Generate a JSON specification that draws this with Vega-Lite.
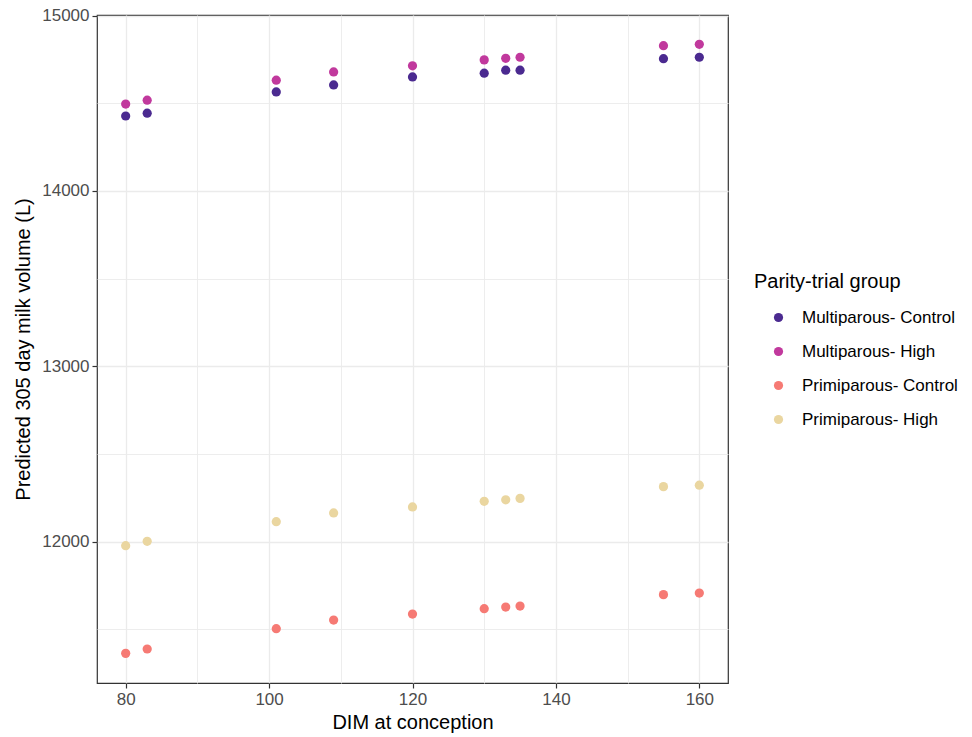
{
  "$schema": "https://vega.github.io/schema/vega-lite/v6.json",
  "autosize": {"type": "none"},
  "padding": {"left": 97, "top": 15, "right": 244, "bottom": 54},
  "width": 631,
  "height": 668,
  "background": "white",
  "config": {
    "font": "Liberation Sans",
    "view": {"stroke": "#333333", "strokeWidth": 1.2}
  },
  "data": {
    "values": [
      {"dim": 80, "volume": 14427, "group": "Multiparous- Control"},
      {"dim": 83, "volume": 14443, "group": "Multiparous- Control"},
      {"dim": 101, "volume": 14564, "group": "Multiparous- Control"},
      {"dim": 109, "volume": 14604, "group": "Multiparous- Control"},
      {"dim": 120, "volume": 14650, "group": "Multiparous- Control"},
      {"dim": 130, "volume": 14671, "group": "Multiparous- Control"},
      {"dim": 133, "volume": 14688, "group": "Multiparous- Control"},
      {"dim": 135, "volume": 14688, "group": "Multiparous- Control"},
      {"dim": 155, "volume": 14754, "group": "Multiparous- Control"},
      {"dim": 160, "volume": 14762, "group": "Multiparous- Control"},
      {"dim": 80, "volume": 14495, "group": "Multiparous- High"},
      {"dim": 83, "volume": 14517, "group": "Multiparous- High"},
      {"dim": 101, "volume": 14631, "group": "Multiparous- High"},
      {"dim": 109, "volume": 14678, "group": "Multiparous- High"},
      {"dim": 120, "volume": 14713, "group": "Multiparous- High"},
      {"dim": 130, "volume": 14747, "group": "Multiparous- High"},
      {"dim": 133, "volume": 14756, "group": "Multiparous- High"},
      {"dim": 135, "volume": 14762, "group": "Multiparous- High"},
      {"dim": 155, "volume": 14828, "group": "Multiparous- High"},
      {"dim": 160, "volume": 14836, "group": "Multiparous- High"},
      {"dim": 80, "volume": 11362, "group": "Primiparous- Control"},
      {"dim": 83, "volume": 11387, "group": "Primiparous- Control"},
      {"dim": 101, "volume": 11503, "group": "Primiparous- Control"},
      {"dim": 109, "volume": 11552, "group": "Primiparous- Control"},
      {"dim": 120, "volume": 11586, "group": "Primiparous- Control"},
      {"dim": 130, "volume": 11617, "group": "Primiparous- Control"},
      {"dim": 133, "volume": 11626, "group": "Primiparous- Control"},
      {"dim": 135, "volume": 11632, "group": "Primiparous- Control"},
      {"dim": 155, "volume": 11697, "group": "Primiparous- Control"},
      {"dim": 160, "volume": 11706, "group": "Primiparous- Control"},
      {"dim": 80, "volume": 11976, "group": "Primiparous- High"},
      {"dim": 83, "volume": 12001, "group": "Primiparous- High"},
      {"dim": 101, "volume": 12113, "group": "Primiparous- High"},
      {"dim": 109, "volume": 12163, "group": "Primiparous- High"},
      {"dim": 120, "volume": 12197, "group": "Primiparous- High"},
      {"dim": 130, "volume": 12229, "group": "Primiparous- High"},
      {"dim": 133, "volume": 12238, "group": "Primiparous- High"},
      {"dim": 135, "volume": 12246, "group": "Primiparous- High"},
      {"dim": 155, "volume": 12313, "group": "Primiparous- High"},
      {"dim": 160, "volume": 12321, "group": "Primiparous- High"}
    ]
  },
  "mark": {"type": "point", "filled": true, "opacity": 1, "size": 85, "shape": "circle"},
  "encoding": {
    "x": {
      "field": "dim",
      "type": "quantitative",
      "scale": {"domain": [76, 164], "nice": false, "zero": false},
      "axis": {
        "title": "DIM at conception",
        "values": [80, 90, 100, 110, 120, 130, 140, 150, 160],
        "labelExpr": "datum.value % 20 === 0 ? datum.label : ''",
        "domain": false,
        "grid": true,
        "gridColor": "#ebebeb",
        "gridWidth": {"condition": {"test": "datum.value % 20 === 0", "value": 1.3}, "value": 0.9},
        "tickColor": {"condition": {"test": "datum.value % 20 === 0", "value": "#333333"}, "value": "transparent"},
        "tickSize": 5,
        "tickWidth": 1.2,
        "labelFontSize": 17,
        "labelColor": "#4d4d4d",
        "labelPadding": 3,
        "titleFontSize": 20,
        "titleFontWeight": "normal",
        "titleColor": "#000000",
        "titlePadding": 5
      }
    },
    "y": {
      "field": "volume",
      "type": "quantitative",
      "scale": {"domain": [11193, 15003], "nice": false, "zero": false},
      "axis": {
        "title": "Predicted 305 day milk volume (L)",
        "values": [11500, 12000, 12500, 13000, 13500, 14000, 14500, 15000],
        "labelExpr": "datum.value % 1000 === 0 ? datum.value + '' : ''",
        "domain": false,
        "grid": true,
        "gridColor": "#ebebeb",
        "gridWidth": {"condition": {"test": "datum.value % 1000 === 0", "value": 1.3}, "value": 0.9},
        "tickColor": {"condition": {"test": "datum.value % 1000 === 0", "value": "#333333"}, "value": "transparent"},
        "tickSize": 5,
        "tickWidth": 1.2,
        "labelFontSize": 17,
        "labelColor": "#4d4d4d",
        "labelPadding": 3,
        "titleFontSize": 20,
        "titleFontWeight": "normal",
        "titleColor": "#000000",
        "titlePadding": 8
      }
    },
    "color": {
      "field": "group",
      "type": "nominal",
      "scale": {
        "domain": ["Multiparous- Control", "Multiparous- High", "Primiparous- Control", "Primiparous- High"],
        "range": ["#4b2a90", "#c1399d", "#f67a74", "#ead6a0"]
      },
      "legend": {
        "title": "Parity-trial group",
        "orient": "none",
        "legendX": 657,
        "legendY": 257,
        "padding": 0,
        "titleFontSize": 20,
        "titleFontWeight": "normal",
        "titleColor": "#000000",
        "titlePadding": 17,
        "labelFontSize": 17,
        "labelColor": "#000000",
        "labelOffset": 15,
        "symbolSize": 85,
        "symbolOffset": 16,
        "symbolType": "circle",
        "rowPadding": 16
      }
    }
  }
}
